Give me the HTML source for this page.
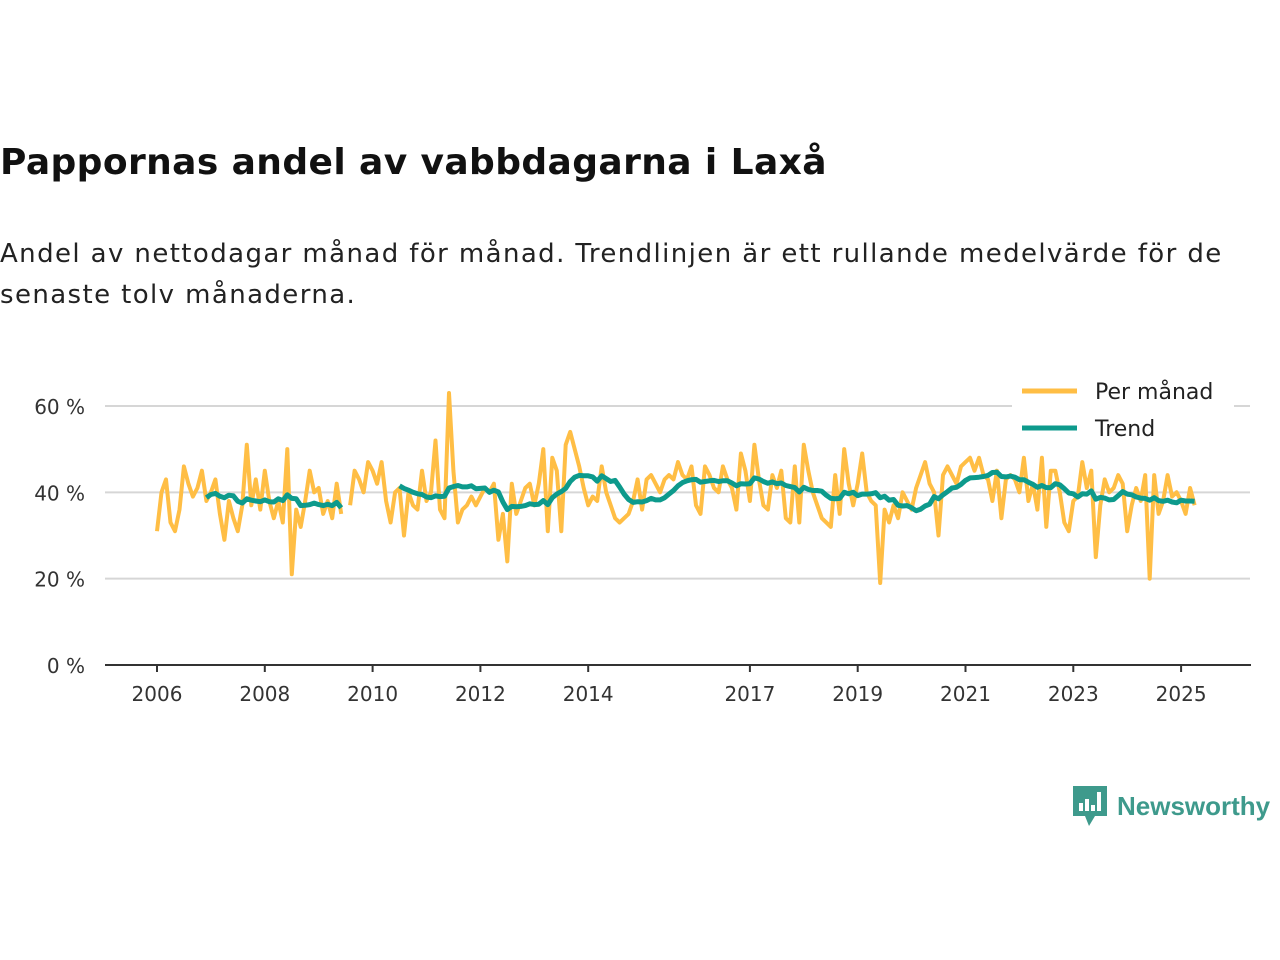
<!DOCTYPE html>
<html><head><meta charset="utf-8"><style>
body{margin:0;width:1280px;height:960px;background:#fff;font-family:"DejaVu Sans","Liberation Sans",sans-serif;overflow:hidden;position:relative}
#title{position:absolute;left:0;top:142px;font-size:36px;font-weight:bold;color:#111;margin:0;font-family:"DejaVu Sans",sans-serif;letter-spacing:0.4px}
#sub{position:absolute;left:0;top:234px;font-size:26px;line-height:41px;color:#222;width:1260px;letter-spacing:1.4px}
svg{position:absolute;left:0;top:0}
</style></head><body>
<h1 id="title">Pappornas andel av vabbdagarna i Laxå</h1>
<div id="sub">Andel av nettodagar månad för månad. Trendlinjen är ett rullande medelvärde för de senaste tolv månaderna.</div>
<svg id="chart" width="1280" height="960"></svg>
<div style="position:absolute;left:1073px;top:786px;display:flex;align-items:center">
<svg width="34" height="40" style="position:static"><path d="M0 0H34V30H22L16 40L12 30H0Z" fill="#3e9a8c"/><rect x="6" y="17" width="4" height="8" fill="#fff"/><rect x="12" y="13" width="4" height="12" fill="#fff"/><rect x="18" y="19" width="4" height="6" fill="#fff"/><rect x="24" y="6" width="4" height="19" fill="#fff"/></svg>
<span style="font-size:26px;font-weight:bold;color:#3e9a8c;margin-left:10px;font-family:'Liberation Sans',sans-serif">Newsworthy</span></div>
<script>
const startYear=2006;
const monthly=[
31,40,43,33,31,36,46,42,39,41,45,38,
40,43,35,29,38,34,31,37,51,37,43,36,
45,38,34,38,33,50,21,36,32,38,45,40,
41,35,38,34,42,35,null,37,45,43,40,47,
45,42,47,38,33,40,41,30,40,37,36,45,
38,40,52,36,34,63,45,33,36,37,39,37,
39,41,40,42,29,35,24,42,35,38,41,42,
37,42,50,31,48,45,31,51,54,50,46,41,
37,39,38,46,40,37,34,33,34,35,38,43,
36,43,44,42,40,43,44,43,47,44,43,46,
37,35,46,44,41,40,46,43,41,36,49,45,
38,51,43,37,36,44,41,45,34,33,46,33,
51,45,40,37,34,33,32,44,35,50,42,37,
42,49,40,38,37,19,36,33,37,34,40,38,
36,41,44,47,42,40,30,44,46,44,42,46,
47,48,45,48,44,43,38,45,34,43,44,43,
40,48,38,42,36,48,32,45,45,40,33,31,
38,39,47,41,45,25,37,43,40,41,44,42,
31,37,41,38,44,20,44,35,38,44,39,40,
38,35,41,37];
const yTicks=[0,20,40,60];
const xTickYears=[2006,2008,2010,2012,2014,2017,2019,2021,2023,2025];
const NS="http://www.w3.org/2000/svg",svg=document.getElementById('chart');
const x0=157,pxYear=53.9,y0=665,pxPct=4.317;
const xs=i=>x0+(i/12)*pxYear, ys=v=>y0-v*pxPct;
function mk(t,a){const e=document.createElementNS(NS,t);for(const k in a)e.setAttribute(k,a[k]);svg.appendChild(e);return e;}
yTicks.forEach(v=>{
 if(v>0){const g=mk('line',{x1:105,x2:1250,y1:ys(v),y2:ys(v),stroke:'#d6d6d6','stroke-width':2});
 
 }
 const t=mk('text',{x:85,y:ys(v)+8,'text-anchor':'end','font-size':20,fill:'#333','font-family':'DejaVu Sans'});t.textContent=v+' %';
 
 
});
const ax=mk('line',{x1:105,x2:1251,y1:y0,y2:y0,stroke:'#333','stroke-width':2});


xTickYears.forEach(yr=>{
 const x=xs((yr-startYear)*12);
 const tk=mk('line',{x1:x,x2:x,y1:y0,y2:y0+7,stroke:'#333','stroke-width':2});
 
 
 const t=mk('text',{x:x,y:701,'text-anchor':'middle','font-size':20,fill:'#333','font-family':'DejaVu Sans'});t.textContent=yr;
 
 
});
const trend=monthly.map((v,i)=>{if(i<11)return null;let s=0;for(let k=i-11;k<=i;k++){if(monthly[k]==null)return null;s+=monthly[k];}return s/12;});
function path(arr){let d='',pen=false;arr.forEach((v,i)=>{if(v==null){pen=false;return;}d+=(pen?'L':'M')+xs(i).toFixed(1)+' '+ys(v).toFixed(1);pen=true;});return d;}
const p1=mk('path',{d:path(monthly),fill:'none',stroke:'#ffbe45','stroke-width':4,'stroke-linejoin':'round'});


const p2=mk('path',{d:path(trend),fill:'none',stroke:'#0d9a8c','stroke-width':5,'stroke-linejoin':'round'});


const bg=mk('rect',{x:1012,y:372,width:222,height:78,fill:'#fff'});


[['Per månad','#ffbe45',391],['Trend','#0d9a8c',428]].forEach(([n,c,y])=>{
 const l=mk('line',{x1:1022,x2:1077,y1:y,y2:y,stroke:c,'stroke-width':5});
 
 
 const t=mk('text',{x:1095,y:y+8,'font-size':22,fill:'#222','font-family':'DejaVu Sans'});t.textContent=n;
 
 
});
</script>
</body></html>
